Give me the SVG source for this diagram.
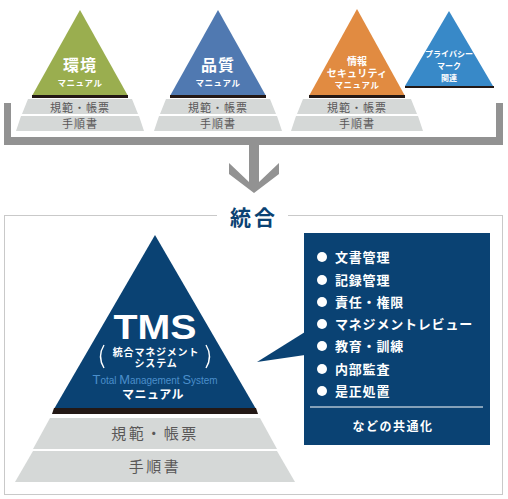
<svg xmlns="http://www.w3.org/2000/svg" width="508" height="499" viewBox="0 0 508 499">
<style>
.jp{font-family:"Noto Sans CJK JP","Noto Sans",sans-serif;font-weight:bold;}
.w{fill:#ffffff;}
.band{fill:#d5d8d7;}
.bar{fill:#231815;}
.bt{fill:#595757;font-weight:normal;text-anchor:middle;}
.c{text-anchor:middle;}
.li{font-size:13px;letter-spacing:0.8px;fill:#ffffff;}
</style>
<rect width="508" height="499" fill="#ffffff"/>

<g id="connectors">
  <path d="M4,103 H11 V137 H496 V103 H503 V145 H4 Z" fill="#929292"/>
  <polygon points="249,145 259,145 259,182 279,163 279,174 254,193 229,174 229,163 249,182" fill="#929292"/>
</g>

<g id="env">
  <polygon points="80,10 127.5,95 32.5,95" fill="#9aae4f"/>
  <rect class="bar" x="32" y="95" width="96" height="3"/>
  <polygon class="band" points="28,99 132,99 138,114 22,114"/>
  <polygon class="band" points="21,116 139,116 144,131 16,131"/>
  <text class="jp w c" x="80" y="71" font-size="16" letter-spacing="1">環境</text>
  <text class="jp w c" x="80" y="86" font-size="8.5" letter-spacing="0.6">マニュアル</text>
  <text class="jp bt" x="80" y="112" font-size="11" letter-spacing="1">規範・帳票</text>
  <text class="jp bt" x="80" y="128" font-size="11" letter-spacing="1">手順書</text>
</g>

<g id="quality">
  <polygon points="218,10 265.5,95 170.5,95" fill="#5079b1"/>
  <rect class="bar" x="170" y="95" width="96" height="3"/>
  <polygon class="band" points="166,99 270,99 276,114 160,114"/>
  <polygon class="band" points="159,116 277,116 282,131 154,131"/>
  <text class="jp w c" x="218" y="71" font-size="16" letter-spacing="1">品質</text>
  <text class="jp w c" x="218" y="86" font-size="8.5" letter-spacing="0.6">マニュアル</text>
  <text class="jp bt" x="218" y="112" font-size="11" letter-spacing="1">規範・帳票</text>
  <text class="jp bt" x="218" y="128" font-size="11" letter-spacing="1">手順書</text>
</g>

<g id="infosec">
  <polygon points="357,9 404.5,95 309.5,95" fill="#e18b41"/>
  <rect class="bar" x="309" y="95" width="96" height="3"/>
  <polygon class="band" points="303,99 411,99 417,114 297,114"/>
  <polygon class="band" points="296,116 418,116 423,131 291,131"/>
  <text class="jp w c" x="357" y="65" font-size="10">情報</text>
  <text class="jp w c" x="357" y="77" font-size="10" letter-spacing="0.2">セキュリティ</text>
  <text class="jp w c" x="357" y="88" font-size="8.5" letter-spacing="0.6">マニュアル</text>
  <text class="jp bt" x="357" y="112" font-size="11" letter-spacing="1">規範・帳票</text>
  <text class="jp bt" x="357" y="128" font-size="11" letter-spacing="1">手順書</text>
</g>

<g id="privacy">
  <polygon points="449,11 493,86 405,86" fill="#3889c8"/>
  <rect class="bar" x="405" y="86" width="89" height="2"/>
  <text class="jp w c" x="449" y="57" font-size="8">プライバシー</text>
  <text class="jp w c" x="449" y="69" font-size="8">マーク</text>
  <text class="jp w c" x="449" y="80.5" font-size="8">関連</text>
</g>

<g id="frame">
  <rect x="4.5" y="215.5" width="498" height="279" fill="none" stroke="#c9c9c9" stroke-width="1"/>
  <rect x="217" y="210" width="71" height="12" fill="#ffffff"/>
  <text class="jp c" x="254" y="225" font-size="21" letter-spacing="3" fill="#0a4273">統合</text>
</g>

<g id="tms">
  <polygon points="155,235 256,409 54,409" fill="#0a4273"/>
  <polygon class="bar" points="54,408 256,408 258,414 52,414"/>
  <polygon class="band" points="50,418 260,418 277,449 33,449"/>
  <polygon class="band" points="33,451 277,451 295,482 15,482"/>
  <text x="155" y="339" font-family="Liberation Sans, Arial, sans-serif" font-weight="bold" font-size="35" fill="#ffffff" text-anchor="middle" textLength="83" lengthAdjust="spacingAndGlyphs">TMS</text>
  <path d="M104,345 Q97,356.5 104,368" fill="none" stroke="#ffffff" stroke-width="1.4"/>
  <path d="M206,345 Q213,356.5 206,368" fill="none" stroke="#ffffff" stroke-width="1.4"/>
  <text class="jp w c" x="156" y="356" font-size="10" letter-spacing="0.8">統合マネジメント</text>
  <text class="jp w c" x="156" y="367" font-size="10" letter-spacing="0.8">システム</text>
  <text x="155" y="384" font-family="Liberation Sans, Arial, sans-serif" font-size="10" fill="#4b8fcb" text-anchor="middle" textLength="125" lengthAdjust="spacingAndGlyphs"><tspan font-size="13">T</tspan>otal <tspan font-size="13">M</tspan>anagement <tspan font-size="13">S</tspan>ystem</text>
  <text class="jp w c" x="153" y="399" font-size="12" letter-spacing="0.5">マニュアル</text>
  <text class="jp bt" x="155" y="439" font-size="15" letter-spacing="2.5">規範・帳票</text>
  <text class="jp bt" x="155" y="472" font-size="15" letter-spacing="2.5">手順書</text>
</g>

<g id="callout">
  <rect x="304" y="233" width="186" height="212" fill="#0a4273"/>
  <polygon points="305,332 257,362 305,355" fill="#0a4273"/>
  <g fill="#ffffff">
    <circle cx="322" cy="257" r="5"/>
    <circle cx="322" cy="280" r="5"/>
    <circle cx="322" cy="302" r="5"/>
    <circle cx="322" cy="324" r="5"/>
    <circle cx="322" cy="346" r="5"/>
    <circle cx="322" cy="369" r="5"/>
    <circle cx="322" cy="391" r="5"/>
  </g>
  <text class="jp li" x="335" y="262">文書管理</text>
  <text class="jp li" x="335" y="285">記録管理</text>
  <text class="jp li" x="335" y="307">責任・権限</text>
  <text class="jp li" x="335" y="329">マネジメントレビュー</text>
  <text class="jp li" x="335" y="351">教育・訓練</text>
  <text class="jp li" x="335" y="374">内部監査</text>
  <text class="jp li" x="335" y="396">是正処置</text>
  <line x1="310" y1="407" x2="483" y2="407" stroke="#ffffff" stroke-width="1"/>
  <text class="jp w c" x="393" y="431" font-size="12" letter-spacing="1.5">などの共通化</text>
</g>
</svg>
